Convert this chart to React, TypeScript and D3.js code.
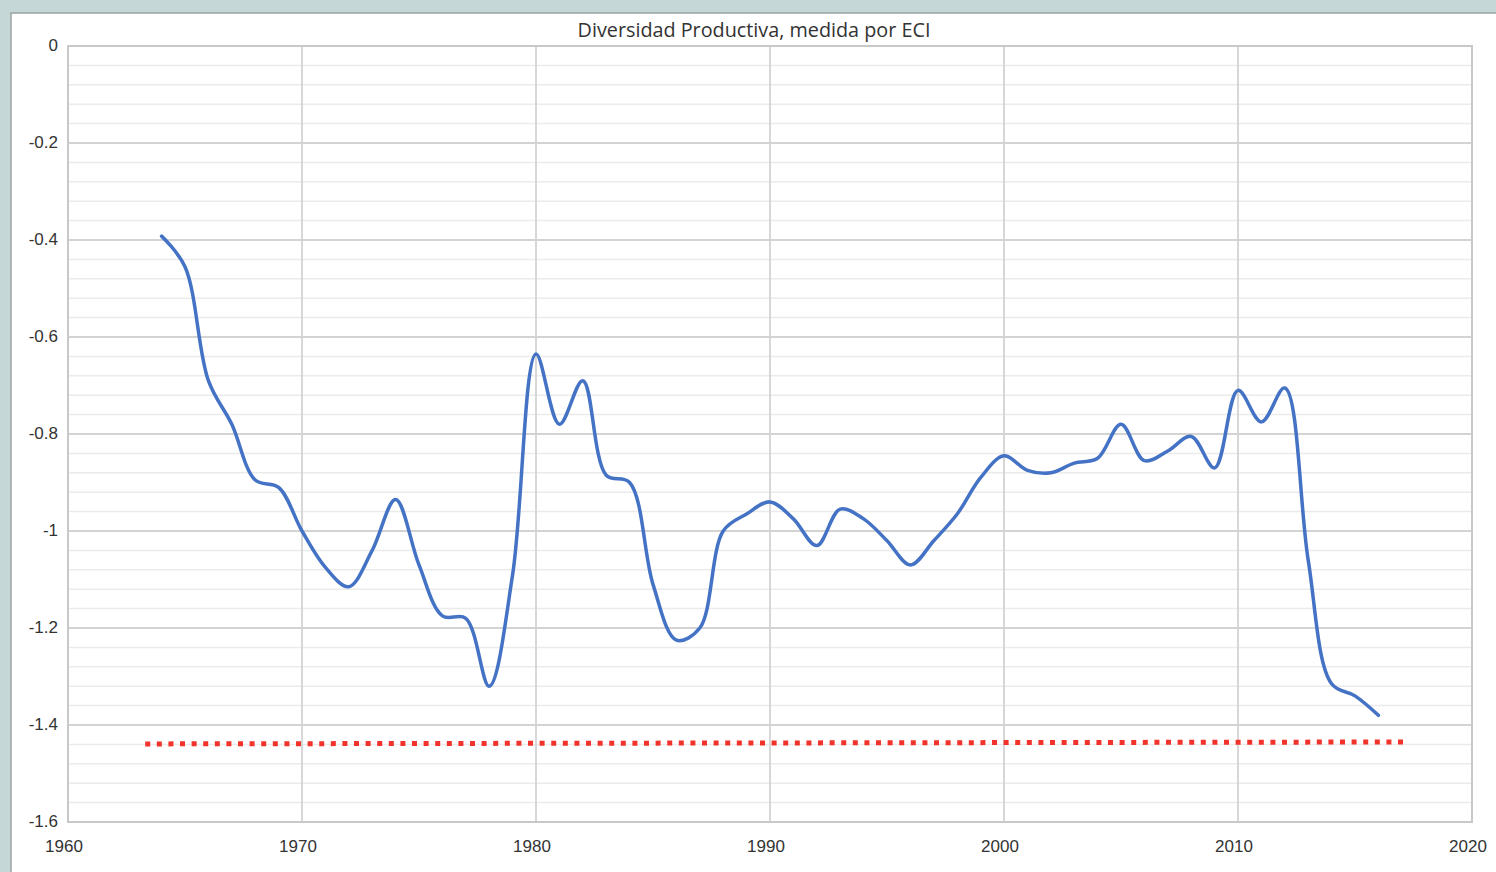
import { useRef, useEffect } from "react";
import * as d3 from "d3";

const W = 1496;
const H = 872;

const years = [
  1964, 1965, 1966, 1967, 1968, 1969, 1970, 1971, 1972, 1973, 1974, 1975, 1976,
  1977, 1978, 1979, 1980, 1981, 1982, 1983, 1984, 1985, 1986, 1987, 1988, 1989,
  1990, 1991, 1992, 1993, 1994, 1995, 1996, 1997, 1998, 1999, 2000, 2001, 2002,
  2003, 2004, 2005, 2006, 2007, 2008, 2009, 2010, 2011, 2012, 2013, 2014, 2015,
  2016,
];
const eci = [
  -0.392, -0.455, -0.69, -0.78, -0.895, -0.91, -1.0, -1.075, -1.115, -1.04,
  -0.935, -1.07, -1.175, -1.18, -1.32, -1.09, -0.635, -0.78, -0.69, -0.885,
  -0.9, -1.11, -1.225, -1.2, -1.0, -0.965, -0.94, -0.975, -1.03, -0.955,
  -0.975, -1.02, -1.07, -1.02, -0.965, -0.89, -0.845, -0.875, -0.88, -0.86,
  -0.85, -0.78, -0.855, -0.835, -0.805, -0.87, -0.71, -0.775, -0.705, -1.06,
  -1.315, -1.34, -1.38,
];
// trend line end points
const trendX = [1963.3, 2017.1];
const trendY = [-1.439, -1.435];

const yTicks = [0, -0.2, -0.4, -0.6, -0.8, -1, -1.2, -1.4, -1.6];
const xTicks = [1960, 1970, 1980, 1990, 2000, 2010, 2020];
const title = "Diversidad Productiva, medida por ECI";

export default function App() {
  const svgRef = useRef<SVGSVGElement | null>(null);

  useEffect(() => {
    const svg = d3.select(svgRef.current);
    svg.selectAll("*").remove();

    const margin = { top: 46, right: 24, bottom: 50, left: 68 };
    const x = d3.scaleLinear().domain([1960, 2020]).range([margin.left, W - margin.right]);
    const y = d3.scaleLinear().domain([-1.6, 0]).range([H - margin.bottom, margin.top]);

    // background + panel
    svg.append("rect").attr("width", W).attr("height", H).attr("fill", "#c5d8d7");
    svg
      .append("rect")
      .attr("x", 11)
      .attr("y", 13)
      .attr("width", W)
      .attr("height", H)
      .attr("fill", "#ffffff")
      .attr("stroke", "#9aa3a3")
      .attr("stroke-width", 1.5);

    // minor grid
    const minor = d3.range(-1.6, 0.001, 0.04).filter((v) => Math.abs(v / 0.2 - Math.round(v / 0.2)) > 0.01);
    svg
      .append("g")
      .selectAll("line")
      .data(minor)
      .join("line")
      .attr("x1", x(1960))
      .attr("x2", x(2020))
      .attr("y1", (d) => y(d))
      .attr("y2", (d) => y(d))
      .attr("stroke", "#ebebeb")
      .attr("stroke-width", 1.5);

    // major grid
    svg
      .append("g")
      .selectAll("line")
      .data(yTicks)
      .join("line")
      .attr("x1", x(1960))
      .attr("x2", x(2020))
      .attr("y1", (d) => y(d))
      .attr("y2", (d) => y(d))
      .attr("stroke", "#d3d3d3")
      .attr("stroke-width", 1.8);

    svg
      .append("g")
      .selectAll("line")
      .data(xTicks)
      .join("line")
      .attr("x1", (d) => x(d))
      .attr("x2", (d) => x(d))
      .attr("y1", y(0))
      .attr("y2", y(-1.6))
      .attr("stroke", "#d3d3d3")
      .attr("stroke-width", 1.8);

    svg
      .append("rect")
      .attr("x", x(1960))
      .attr("y", y(0))
      .attr("width", x(2020) - x(1960))
      .attr("height", y(-1.6) - y(0))
      .attr("fill", "none")
      .attr("stroke", "#c8c8c8")
      .attr("stroke-width", 2);

    // tick labels
    svg
      .append("g")
      .selectAll("text")
      .data(yTicks)
      .join("text")
      .attr("x", 58)
      .attr("y", (d) => y(d) + 5)
      .attr("text-anchor", "end")
      .attr("font-family", "'Liberation Sans', Arial, sans-serif")
      .attr("font-size", 17)
      .attr("fill", "#333")
      .text((d) => String(d));

    svg
      .append("g")
      .selectAll("text")
      .data(xTicks)
      .join("text")
      .attr("x", (d) => x(d) - 4)
      .attr("y", 852)
      .attr("text-anchor", "middle")
      .attr("font-family", "'Liberation Sans', Arial, sans-serif")
      .attr("font-size", 17)
      .attr("fill", "#333")
      .text((d) => String(d));

    svg
      .append("text")
      .attr("x", 754)
      .attr("y", 37)
      .attr("text-anchor", "middle")
      .attr("font-family", "'Open Sans', 'Noto Sans', sans-serif")
      .attr("font-size", 19.8)
      .attr("fill", "#333")
      .text(title);

    // trend line
    svg
      .append("line")
      .attr("x1", x(trendX[0]))
      .attr("x2", x(trendX[1]))
      .attr("y1", y(trendY[0]))
      .attr("y2", y(trendY[1]))
      .attr("stroke", "#f2332b")
      .attr("stroke-width", 5)
      .attr("stroke-dasharray", "5 6.6");

    // series
    const pts = years.map((yr, i) => [yr, eci[i]] as [number, number]);
    const line = d3
      .line<[number, number]>()
      .x((d) => x(d[0]))
      .y((d) => y(d[1]))
      .curve(d3.curveCatmullRom.alpha(0.5));
    svg
      .append("path")
      .datum(pts)
      .attr("d", line)
      .attr("fill", "none")
      .attr("stroke", "#4472c4")
      .attr("stroke-width", 3.5)
      .attr("stroke-linecap", "round")
      .attr("stroke-linejoin", "round");
  }, []);

  return (
    <div style={{ position: "fixed", top: 0, left: 0, width: W, height: H }}>
      <svg ref={svgRef} width={W} height={H} style={{ display: "block" }} />
    </div>
  );
}
